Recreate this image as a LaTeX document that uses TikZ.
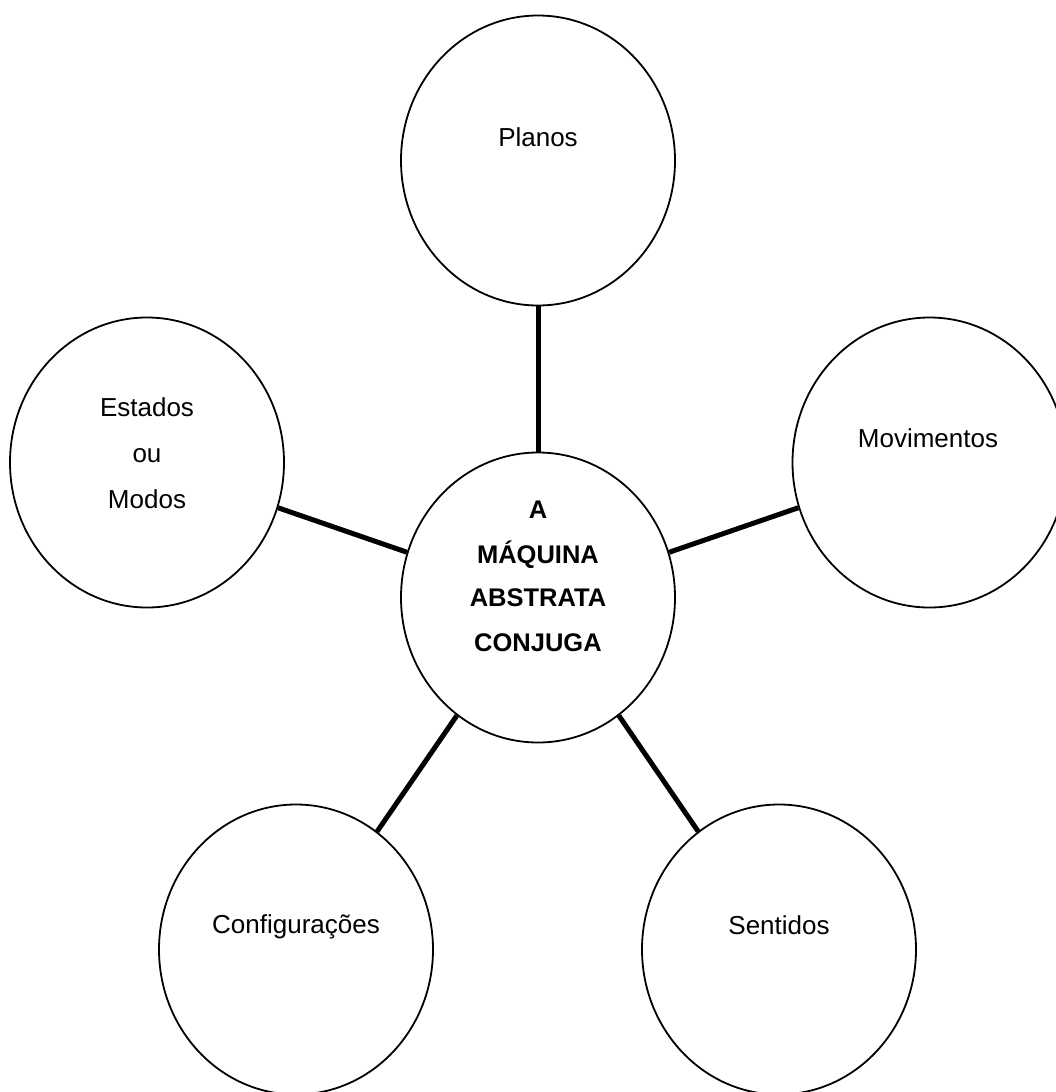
\documentclass[tikz,border=0pt]{standalone}
\usepackage{fontspec}
\setmainfont{Liberation Sans}
\usetikzlibrary{shapes.geometric}
\tikzset{
  bubble/.style={ellipse, draw, line width=1.8pt, minimum width=274pt, minimum height=290pt, inner sep=0pt},
  link/.style={line width=5pt},
  lbl/.style={anchor=base, inner sep=0pt, font=\fontsize{26}{30}\selectfont},
  blbl/.style={anchor=base, inner sep=0pt, font=\fontsize{25.5}{30}\selectfont\bfseries},
}
\begin{document}
\begin{tikzpicture}[x=1pt,y=-1pt]
  \fill[white] (0,0) rectangle (1056,1092);
  \useasboundingbox (0,0) rectangle (1056,1092);
  % bubbles
  \node[bubble] (plan) at (538,160.5) {};
  \node[bubble] (est)  at (147,462.5) {};
  \node[bubble] (mov)  at (929.5,462.5) {};
  \node[bubble] (cen)  at (538,597.5) {};
  \node[bubble] (conf) at (296,949.5) {};
  \node[bubble] (sent) at (779,949.5) {};
  % connectors
  \draw[link] (plan) -- (cen);
  \draw[link] (est) -- (cen);
  \draw[link] (mov) -- (cen);
  \draw[link] (conf) -- (cen);
  \draw[link] (sent) -- (cen);
  % labels
  \node[lbl] (planT) at (538,146) {Planos};
  \node[lbl] (estT1) at (147,416) {Estados};
  \node[lbl] (estT2) at (147,462) {ou};
  \node[lbl] (estT3) at (147,508) {Modos};
  \node[lbl] (movT) at (928,447) {Movimentos};
  \node[lbl] (confT) at (296,933) {Configurações};
  \node[lbl] (sentT) at (779,934) {Sentidos};
  \node[blbl] (cenT1) at (538,518) {A};
  \node[blbl] (cenT2) at (538,563) {MÁQUINA};
  \node[blbl] (cenT3) at (538,606) {ABSTRATA};
  \node[blbl] (cenT4) at (538,651) {CONJUGA};
\end{tikzpicture}
\end{document}
